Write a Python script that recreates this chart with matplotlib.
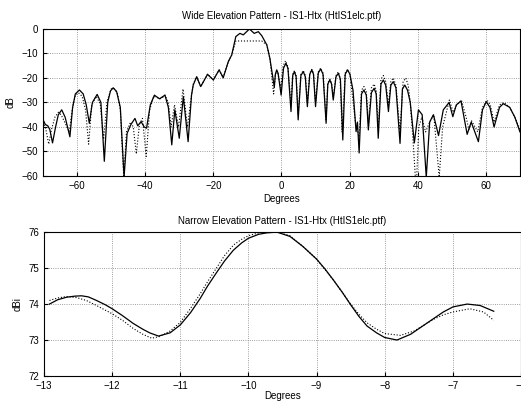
import matplotlib
matplotlib.use('Agg')
import matplotlib.pyplot as plt

# wide pattern, measured (solid)
wide_x = [-70, -69.3, -68.6, -68.0, -67.2, -66.3, -65.5, -64.5, -63.5, -62.1,
          -61.3, -60.5, -59.3, -58.2, -57.3, -56.4, -55.5, -54.1, -53.0, -52.0,
          -51.0, -50.2, -49.4, -48.4, -47.3, -46.2, -45.3, -44.2, -43.0, -42.2,
          -41.2, -40.3, -39.6, -38.5, -37.3, -35.8, -34.2, -33.2, -32.2, -31.3,
          -30.0, -28.8, -27.4, -26.4, -25.9, -24.9, -23.7, -21.7, -20.0, -18.3,
          -17.1, -15.6, -14.6, -13.4, -12.2, -11.2, -9.4, -8.0, -6.8, -5.8,
          -4.3, -3.4, -2.1, -1.8, -1.4, -1.0, -0.1, 0.6, 1.3, 1.9,
          2.8, 3.3, 3.8, 4.3, 4.9, 5.7, 6.4, 7.0, 7.6, 8.3,
          8.9, 9.4, 10.0, 10.8, 11.5, 12.2, 13.1, 13.6, 14.2, 14.7,
          15.2, 16.0, 16.7, 17.3, 18.0, 18.7, 19.4, 20.1, 21.0, 21.9,
          22.3, 22.8, 23.5, 24.2, 24.9, 25.5, 26.4, 27.2, 27.8, 28.4,
          29.2, 29.9, 30.6, 31.4, 32.1, 32.8, 33.6, 34.8, 35.5, 36.2,
          37.0, 37.8, 39.0, 40.2, 41.3, 42.5, 43.5, 44.6, 46.1, 47.5,
          49.2, 50.3, 51.3, 52.7, 54.5, 55.7, 57.8, 59.0, 60.1, 61.2,
          62.4, 64.0, 65.1, 67.0, 68.5, 70]
wide_db = [-37, -39, -39.5, -41, -46.5, -40, -35, -33, -36, -44,
           -32, -26.5, -24.9, -26.5, -31, -38.5, -30, -26.7, -30, -54,
           -30, -25.3, -24, -25.5, -32, -60.5, -42.6, -39, -36.5, -39.5,
           -37.8, -40, -40.5, -31, -27, -28.5, -27, -32, -47.3, -33,
           -44.6, -27.6, -46, -27, -22.9, -19.5, -23.5, -18.5, -20.8, -16.7,
           -19.9, -13.3, -10.6, -3.1, -1.8, -2.4, 0, -1.8, -1.1, -2.7,
           -6.5, -12, -23.8, -18.5, -16.7, -18, -27, -16, -14, -16,
           -33.7, -19, -17.4, -19.5, -37.1, -19, -17.4, -19.5, -31.7, -18.5,
           -16.7, -18.5, -31.7, -18, -16.3, -18.5, -38.5, -22.5, -20.8, -22.5,
           -29, -19.5, -18.1, -20.5, -45.3, -18.5, -16.7, -18.5, -25, -41.9,
           -38, -50.6, -26.5, -24.9, -27, -41.2, -26, -24.2, -26.5, -44.6,
           -22.5, -20.8, -23, -33.7, -23, -21.5, -24, -46.7, -24.5, -22.9,
           -25, -30, -46.5, -33, -35, -60.5, -38, -35, -43.5, -33,
           -30, -35.8, -31, -29.4, -43, -38, -46, -33, -29.7, -32,
           -40, -32, -30.5, -32, -36, -42]

# wide pattern, predicted (dotted)
wide_x2 = [-70, -69.3, -68.3, -67.5, -66.5, -65.5, -64.7, -63.8, -62.3, -61.3,
           -60.5, -59.6, -58.5, -57.5, -56.6, -55.7, -54.4, -53.2, -52.2, -51.2,
           -50.0, -49.2, -48.2, -47.3, -46.3, -45.5, -44.3, -43.5, -42.6, -41.7,
           -40.8, -39.7, -38.7, -37.5, -36.5, -35.3, -34.2, -33.2, -32.4, -31.4,
           -30.2, -28.9, -27.6, -26.4, -25.9, -24.9, -23.7, -21.7, -20.0, -18.3,
           -17.1, -15.6, -14.6, -13.4, -12.2, -5.8, -4.3, -3.4, -2.3, -1.8,
           -1.4, -1.0, -0.2, 0.5, 1.2, 1.9, 2.8, 3.3, 3.8, 4.3,
           4.9, 5.7, 6.4, 7.0, 7.6, 8.3, 8.9, 9.4, 10.0, 10.8,
           11.5, 12.2, 13.1, 13.6, 14.2, 14.7, 15.2, 16.0, 16.7, 17.2,
           17.8, 18.7, 19.4, 20.1, 20.8, 21.7, 22.8, 23.5, 24.2, 24.9,
           25.5, 26.4, 27.2, 27.8, 28.4, 29.2, 29.9, 30.6, 31.4, 32.1,
           32.8, 33.6, 34.8, 35.7, 36.5, 37.2, 37.8, 38.6, 39.3, 39.7,
           40.3, 41.2, 42.3, 43.5, 44.7, 46.3, 47.3, 49.3, 50.4, 51.5,
           52.8, 54.2, 55.0, 55.8, 57.6, 59.0, 60.3, 61.3, 62.4, 64.0,
           65.3, 67.0, 68.5, 70]
wide_db2 = [-38, -40, -47, -41, -36, -34, -35, -37.5, -42, -32,
            -27, -26, -27.5, -33, -47, -31, -27.5, -30.5, -45, -29.5,
            -24.5, -24.3, -26, -33, -60.5, -42, -38, -40, -51, -39,
            -36.5, -52, -33, -27.5, -28, -28.5, -27, -30, -40, -31,
            -40, -24.5, -40, -27, -22.5, -19.5, -23.5, -18.5, -20.8, -16.7,
            -19.9, -13.3, -10.6, -4.9, -4.9, -4.9, -6.5, -12, -26.5, -19,
            -17, -18.5, -24, -15, -13, -15.5, -31, -18.5, -17, -19,
            -35, -18.5, -17, -19, -30, -18, -16.5, -18, -30, -17.5,
            -16, -18, -37, -22, -20.5, -22, -28, -19, -17.5, -20,
            -42, -18, -16.5, -18.5, -27, -38, -44, -25, -23.5, -25.5,
            -38, -24, -22.5, -25, -40, -20.5, -19, -21.5, -31, -21.5,
            -20, -23, -42, -21.5, -20, -23, -30, -45, -60.5, -60.5,
            -40, -36, -42, -38, -35, -60.5, -40, -29, -34, -31,
            -29, -36, -41, -37.5, -42, -32, -29, -31, -38, -31,
            -30, -32, -36, -41]

# narrow pattern (dBi)
nar_x = [-12.92, -12.8, -12.67, -12.55, -12.45, -12.35, -12.23, -12.1, -12.0,
         -11.85, -11.69, -11.55, -11.45, -11.32, -11.15, -11.0, -10.85, -10.71,
         -10.6, -10.47, -10.35, -10.22, -10.1, -10.0, -9.85, -9.73, -9.58,
         -9.39, -9.2, -9.0, -8.87, -8.75, -8.62, -8.5, -8.38, -8.26, -8.12,
         -8.0, -7.82, -7.62, -7.45, -7.28, -7.14, -7.0, -6.79, -6.6, -6.4]
nar_dbi = [74.0, 74.12, 74.19, 74.22, 74.23, 74.2, 74.1, 73.98, 73.87,
           73.68, 73.46, 73.3, 73.2, 73.11, 73.2, 73.42, 73.76, 74.15,
           74.5, 74.87, 75.2, 75.5, 75.7, 75.83, 75.94, 75.98, 76.0,
           75.88, 75.6, 75.25, 74.96, 74.66, 74.32, 73.98, 73.66, 73.39, 73.2,
           73.07, 73.0, 73.16, 73.38, 73.6, 73.78, 73.92, 74.0, 73.96, 73.8]
nar_x2 = [-12.92, -12.8, -12.67, -12.52, -12.38, -12.23, -12.1, -12.0, -11.85,
          -11.69, -11.55, -11.42, -11.3, -11.15, -11.0, -10.85, -10.71, -10.6,
          -10.47, -10.35, -10.22, -10.1, -10.0, -9.85, -9.73, -9.58, -9.39,
          -9.2, -9.0, -8.75, -8.5, -8.38, -8.26, -8.12, -8.0, -7.77, -7.57,
          -7.42, -7.28, -7.14, -7.0, -6.75, -6.55, -6.4]
nar_dbi2 = [74.1, 74.17, 74.21, 74.18, 74.1, 73.96, 73.83, 73.73, 73.55,
            73.32, 73.16, 73.05, 73.1, 73.25, 73.49, 73.88, 74.28, 74.62,
            75.0, 75.35, 75.64, 75.8, 75.9, 75.98, 76.02, 76.0, 75.9,
            75.6, 75.25, 74.66, 74.0, 73.72, 73.48, 73.3, 73.18, 73.13, 73.25,
            73.42, 73.58, 73.7, 73.78, 73.87, 73.78, 73.55]

plt.rcParams['font.family'] = ['Liberation Sans', 'DejaVu Sans']
plt.rcParams['font.size'] = 7

fig = plt.figure(figsize=(5.21, 4.03), dpi=100)

ax1 = fig.add_axes([0.0825, 0.5633, 0.9155, 0.3648])
ax1.plot(wide_x, wide_db, '-', color='black', lw=0.9)
ax1.plot(wide_x2, wide_db2, ':', color='black', lw=0.8)
ax1.set_xlim(-70, 70)
ax1.set_ylim(-60, 0)
ax1.set_xticks([-60, -40, -20, 0, 20, 40, 60])
ax1.set_yticks([0, -10, -20, -30, -40, -50, -60])
ax1.grid(True, linestyle=':', color='gray', lw=0.6)
ax1.set_title('Wide Elevation Pattern - IS1-Htx (HtIS1elc.ptf)', fontsize=7, pad=7)
ax1.set_xlabel('Degrees', fontsize=7, labelpad=2)
ax1.set_ylabel('dB', fontsize=7, labelpad=4)
ax1.tick_params(direction='in', length=3, labelsize=7)

ax2 = fig.add_axes([0.0845, 0.067, 0.9155, 0.357])
ax2.plot(nar_x, nar_dbi, '-', color='black', lw=0.9)
ax2.plot(nar_x2, nar_dbi2, ':', color='black', lw=0.8)
ax2.set_xlim(-13, -6)
ax2.set_ylim(72, 76)
ax2.set_xticks(range(-13, -5))
ax2.set_yticks([72, 73, 74, 75, 76])
ax2.grid(True, linestyle=':', color='gray', lw=0.6)
ax2.set_title('Narrow Elevation Pattern - IS1-Htx (HtIS1elc.ptf)', fontsize=7, pad=6)
ax2.set_xlabel('Degrees', fontsize=7, labelpad=0)
ax2.set_ylabel('dBi', fontsize=7, labelpad=4)
ax2.tick_params(direction='in', length=3, labelsize=7)

fig.savefig('out.png', dpi=100)
